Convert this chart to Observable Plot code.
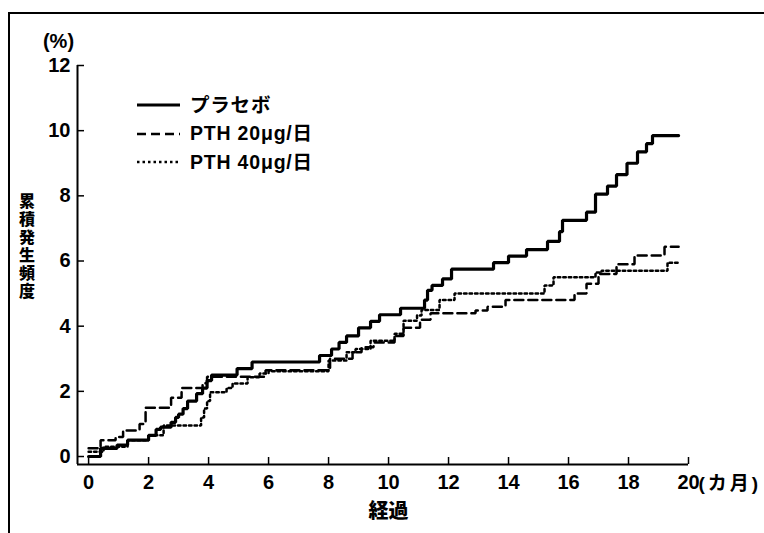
<!DOCTYPE html>
<html><head><meta charset="utf-8">
<script src="https://cdn.jsdelivr.net/npm/d3@7"></script>
<script src="https://cdn.jsdelivr.net/npm/@observablehq/plot@0.6"></script>
<style>
body{margin:0;background:#fff;}
#wrap{position:relative;width:764px;height:533px;overflow:hidden;font-family:"Liberation Sans","Noto Sans CJK JP",sans-serif;font-weight:bold;color:#000;}
#frame{position:absolute;left:8px;top:12px;right:-4px;bottom:-4px;border-top:2px solid #000;border-left:2px solid #000;}
#chart{position:absolute;left:0;top:0;}
#legend{position:absolute;left:137px;top:91px;font-size:19.5px;line-height:1;letter-spacing:0.8px;}
.row{display:flex;align-items:center;height:28.5px;white-space:nowrap;}
.row svg{margin-right:10px;display:block}
#ytitle{position:absolute;left:16px;top:193px;font-size:16px;letter-spacing:2px;writing-mode:vertical-rl;text-orientation:upright;font-family:"Noto Sans CJK JP",sans-serif;font-weight:900;line-height:22px;}
</style></head>
<body><div id="wrap"><div id="frame"></div><div id="chart"></div><div id="legend"></div><div id="ytitle"></div></div>
<script>
// Data (months, cumulative incidence %)
const placeboX = [0, 0.4, 0.95, 1.3, 2.0, 2.25, 2.4, 2.75, 2.9, 3.0, 3.15, 3.3, 3.6, 3.8, 3.95, 4.1, 4.95, 5.45, 7.7, 8.1, 8.35, 8.6, 9.0, 9.4, 9.7, 10.4, 11.2, 11.3, 11.45, 11.8, 12.1, 13.5, 14.0, 14.6, 15.3, 15.7, 15.8, 16.6, 16.9, 17.3, 17.6, 17.95, 18.3, 18.6, 18.8, 19.67];
const placeboY = [0, 0.25, 0.35, 0.5, 0.65, 0.83, 0.9, 1.05, 1.2, 1.3, 1.47, 1.7, 1.93, 2.1, 2.33, 2.5, 2.7, 2.9, 3.1, 3.3, 3.5, 3.7, 3.95, 4.15, 4.35, 4.55, 4.8, 5.1, 5.25, 5.45, 5.75, 5.95, 6.15, 6.35, 6.6, 6.9, 7.25, 7.5, 8.05, 8.3, 8.65, 9.0, 9.35, 9.6, 9.85, 9.85];
const pth20X = [0, 0.4, 0.9, 1.15, 1.7, 1.9, 2.75, 3.1, 3.8, 3.95, 5.9, 8.05, 8.8, 9.1, 9.5, 10.2, 10.5, 11.05, 11.4, 12.9, 13.3, 13.9, 16.2, 16.6, 17.0, 17.6, 18.2, 19.2, 19.67];
const pth20Y = [0.25, 0.5, 0.6, 0.8, 1.0, 1.5, 1.8, 2.1, 2.25, 2.45, 2.65, 3.0, 3.2, 3.35, 3.5, 3.7, 3.95, 4.2, 4.4, 4.48, 4.6, 4.8, 5.0, 5.3, 5.6, 5.9, 6.17, 6.44, 6.44];
const pth40X = [0, 0.5, 1.3, 2.0, 2.5, 3.75, 3.85, 3.95, 4.05, 4.6, 4.8, 5.3, 5.7, 6.0, 8.0, 8.6, 8.9, 9.4, 10.2, 10.5, 10.95, 11.1, 11.7, 12.2, 15.2, 15.5, 16.9, 17.1, 19.3, 19.67];
const pth40Y = [0.15, 0.3, 0.5, 0.65, 0.95, 1.2, 1.47, 1.7, 1.97, 2.1, 2.24, 2.43, 2.55, 2.62, 2.95, 3.2, 3.3, 3.55, 3.77, 4.17, 4.33, 4.5, 4.8, 5.0, 5.25, 5.5, 5.65, 5.7, 5.95, 5.95];

const seriesNames = ["プラセボ", "PTH 20μg/日", "PTH 40μg/日"];
const xTicks = [0, 2, 4, 6, 8, 10, 12, 14, 16, 18, 20];
const yTicks = [0, 2, 4, 6, 8, 10, 12];
const xUnit = "(カ月)";
const xTitle = "経過";
const yUnit = "(%)";
const yTitle = "累積発生頻度";

const xDomain = [-0.37, 20];
const yDomain = [-0.245, 12];

const toRows = (xs, ys) => xs.map((x, i) => ({month: x, pct: ys[i]}));
const styles = [
  {strokeWidth: 3.2, dash: null},
  {strokeWidth: 2.5, dash: "9,5"},
  {strokeWidth: 2.5, dash: "2.5,3"}
];
const data = [toRows(placeboX, placeboY), toRows(pth20X, pth20Y), toRows(pth40X, pth40Y)];

const font = '"Liberation Sans","Noto Sans CJK JP",sans-serif';

const chart = Plot.plot({
  width: 764, height: 533,
  marginLeft: 77, marginRight: 76, marginTop: 65, marginBottom: 69,
  x: {domain: xDomain},
  y: {domain: yDomain},
  style: {fontFamily: font, fontWeight: "bold", fontSize: "20px", color: "#000", background: "transparent", overflow: "visible"},
  marks: [
    Plot.ruleX([xDomain[0]], {stroke: "#000", strokeWidth: 2}),
    Plot.ruleY([yDomain[0]], {stroke: "#000", strokeWidth: 2}),
    Plot.axisX(xTicks, {tickSize: -7, tickPadding: 17, strokeWidth: 1.5, label: null, fontSize: 20, fill: "#000"}),
    Plot.axisY(yTicks, {tickSize: -7, tickPadding: 14, strokeWidth: 1.5, label: null, fontSize: 20, fill: "#000"}),
    ...data.map((rows, i) => Plot.line(rows, {
      x: "month", y: "pct", curve: "step-after", stroke: "#000",
      strokeWidth: styles[i].strokeWidth, strokeDasharray: styles[i].dash, strokeLinejoin: "miter"
    })),
    Plot.text([xUnit], {x: () => xTicks[xTicks.length - 1], y: () => yDomain[0], dx: 10, dy: 19, textAnchor: "start", fontSize: 19, fill: "#000"}),
    Plot.text([xTitle], {x: () => 10, y: () => yDomain[0], dy: 47, fontSize: 20, fill: "#000", fontFamily: '"Noto Sans CJK JP",sans-serif', fontWeight: 900}),
    Plot.text([yUnit], {x: () => xDomain[0], y: () => yTicks[yTicks.length - 1], dx: -19, dy: -24, fontSize: 20, fill: "#000"})
  ]
});
chart.querySelectorAll("text").forEach(t => { if (t.textContent === xUnit) t.setAttribute("letter-spacing", "3"); });
document.getElementById("chart").appendChild(chart);

// Legend
const legend = document.getElementById("legend");
seriesNames.forEach((name, i) => {
  const row = document.createElement("div");
  row.className = "row";
  row.innerHTML = `<svg width="43" height="6"><line x1="0" y1="3" x2="43" y2="3" stroke="#000" stroke-width="${styles[i].strokeWidth}" ${styles[i].dash ? `stroke-dasharray="${styles[i].dash}"` : ""}/></svg><span>${name}</span>`;
  legend.appendChild(row);
});
document.getElementById("ytitle").textContent = yTitle;
</script>
</body></html>
